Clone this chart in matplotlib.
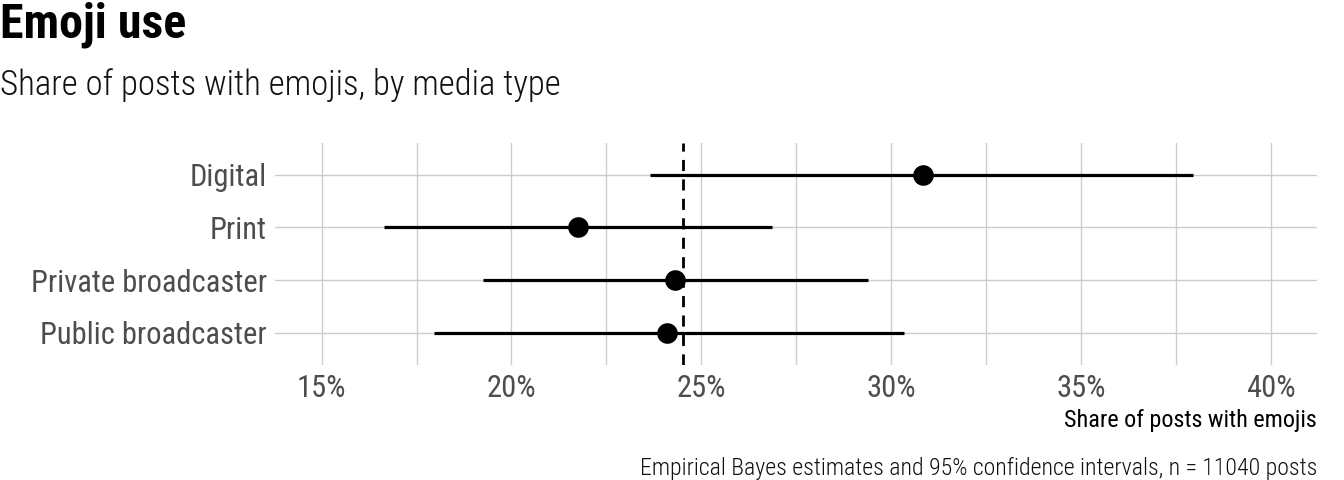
import matplotlib
matplotlib.use('Agg')
import matplotlib.pyplot as plt
from matplotlib import font_manager
from matplotlib.ticker import FuncFormatter, MultipleLocator

names = {f.name for f in font_manager.fontManager.ttflist}
family = 'Roboto Condensed' if 'Roboto Condensed' in names else 'Roboto'
plt.rcParams['font.family'] = [family, 'DejaVu Sans']

media = ['Digital', 'Print', 'Private broadcaster', 'Public broadcaster']
estimate = [30.85, 21.75, 24.3, 24.1]
ci_low = [23.65, 16.65, 19.25, 17.95]
ci_high = [37.95, 26.85, 29.4, 30.35]
overall = 24.53

fig = plt.figure(figsize=(13.44, 4.8), dpi=100)
ax = fig.add_axes([275 / 1344, 1 - 364.5 / 480, (1317 - 275) / 1344, (364.5 - 143) / 480])

ypos = list(range(len(media)))
ax.hlines(ypos, ci_low, ci_high, color='black', lw=2.3, zorder=3)
ax.scatter(estimate, ypos, s=220, color='black', zorder=4, linewidths=0)
ax.axvline(overall, color='black', lw=2.0, ls=(0, (4, 3)), zorder=3)

ax.set_xlim(13.77, 41.22)
ax.set_ylim(len(media) - 0.4, -0.6)
ax.set_yticks(ypos)
ax.set_yticklabels(media)
ax.xaxis.set_major_locator(MultipleLocator(5))
ax.xaxis.set_minor_locator(MultipleLocator(2.5))
ax.xaxis.set_major_formatter(FuncFormatter(lambda v, p: f'{v:.0f}%'))
ax.grid(True, which='both', axis='x', color='#cccccc', lw=1.0)
ax.grid(True, which='major', axis='y', color='#cccccc', lw=1.0)
ax.set_axisbelow(True)
for s in ax.spines.values():
    s.set_visible(False)
ax.tick_params(which='both', length=0)
ax.tick_params(axis='y', labelsize=22, labelcolor='#4d4d4d', pad=6)
ax.tick_params(axis='x', labelsize=22, labelcolor='#4d4d4d', pad=7)

ax.set_xlabel('Share of posts with emojis', fontsize=17.4, loc='right', labelpad=4)

fig.text(0.0, 1 - 37 / 480, 'Emoji use', fontsize=34.5, fontweight='bold', ha='left', va='baseline')
fig.text(0.0, 1 - 95 / 480, 'Share of posts with emojis, by media type', fontsize=25,
         fontweight='light', ha='left', va='baseline', color='#111111')
fig.text(1317 / 1344, 1 - 475 / 480,
         'Empirical Bayes estimates and 95% confidence intervals, n = 11040 posts',
         fontsize=17.2, fontweight='light', ha='right', va='baseline', color='#111111')

fig.savefig('out.png', dpi=100)
